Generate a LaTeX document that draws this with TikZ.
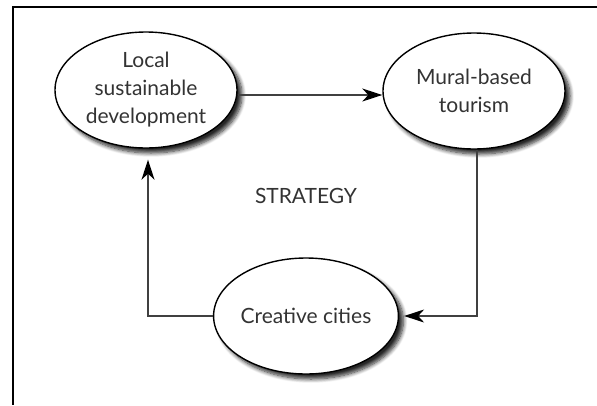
\documentclass[tikz,border=0pt]{standalone}
\usepackage{fontspec}
\setmainfont{Lato}
\usetikzlibrary{shapes.geometric,arrows.meta,shadows.blur}

\tikzset{
  goal/.style={ellipse, draw, line width=1.4pt, fill=white, minimum width=182pt,
    minimum height=116pt, inner sep=0pt, align=center, text=black!80,
    font=\fontsize{21}{28}\selectfont,
    blur shadow={shadow xshift=5pt, shadow yshift=-5pt, shadow blur steps=8,
      shadow blur radius=4pt, shadow opacity=85}},
  link/.style={draw=black!75, line width=1.3pt,
    -{Stealth[length=20pt,width=13pt,inset=6pt,black]}}
}

\begin{document}
\begin{tikzpicture}[x=1pt,y=-1pt]
\useasboundingbox (0,0) rectangle (597,405);
% frame
\draw[line width=1.2pt] (597,7) -- (13,7) -- (13,405);

\node[goal] (local) at (146,90) {Local\\sustainable\\development};
\node[goal] (mural) at (474,91) {Mural-based\\tourism};
\node[goal] (cities) at (306,316) {Creative cities};
\node[text=black!80, font=\fontsize{21}{24}\selectfont] (strat) at (306,196) {STRATEGY};

\draw[link] (local.east |- 0,95) -- (mural.west |- 0,95);
\draw[link] (mural.south -| 477,0) |- ([xshift=5pt]cities.east);
\draw[link, shorten >=11pt] (cities.west) -| (148,0 |- local.south);
\end{tikzpicture}
\end{document}
